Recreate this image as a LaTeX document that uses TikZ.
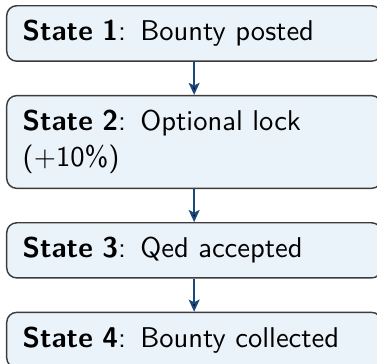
\documentclass[tikz,border=0pt]{standalone}
\usetikzlibrary{arrows.meta,positioning}
\definecolor{boxfill}{RGB}{234,242,250}
\definecolor{boxline}{RGB}{60,60,60}
\definecolor{flowblue}{RGB}{26,72,122}

\begin{document}
\begin{tikzpicture}[>={Stealth[length=4.2pt,width=3.8pt,inset=0.9pt]},node distance=11.55pt,
  state node/.style={draw=boxline,fill=boxfill,rounded corners=3.5pt,line width=0.5pt,
    text width=120pt,inner xsep=5.6pt,inner ysep=5.1pt,align=left,
    font=\sffamily\fontsize{10}{12.6}\selectfont}]

    \useasboundingbox (0,0) rectangle (131.95pt,-127.05pt);

    \node[state node, anchor=north west] (s1) at (2.1pt,-1.75pt) {\textbf{State 1}: Bounty posted};
    \node[state node] (s2) [below = of s1] {\textbf{State 2}: Optional lock (+10\%)};
    \node[state node] (s3) [below = of s2] {\textbf{State 3}: Qed accepted};
    \node[state node] (s4) [below = of s3] {\textbf{State 4}: Bounty collected};

    \path[->, draw=flowblue, line width=0.7pt]
        (s1) edge (s2)
        (s2) edge (s3)
        (s3) edge (s4)
        ;
\end{tikzpicture}
\end{document}
